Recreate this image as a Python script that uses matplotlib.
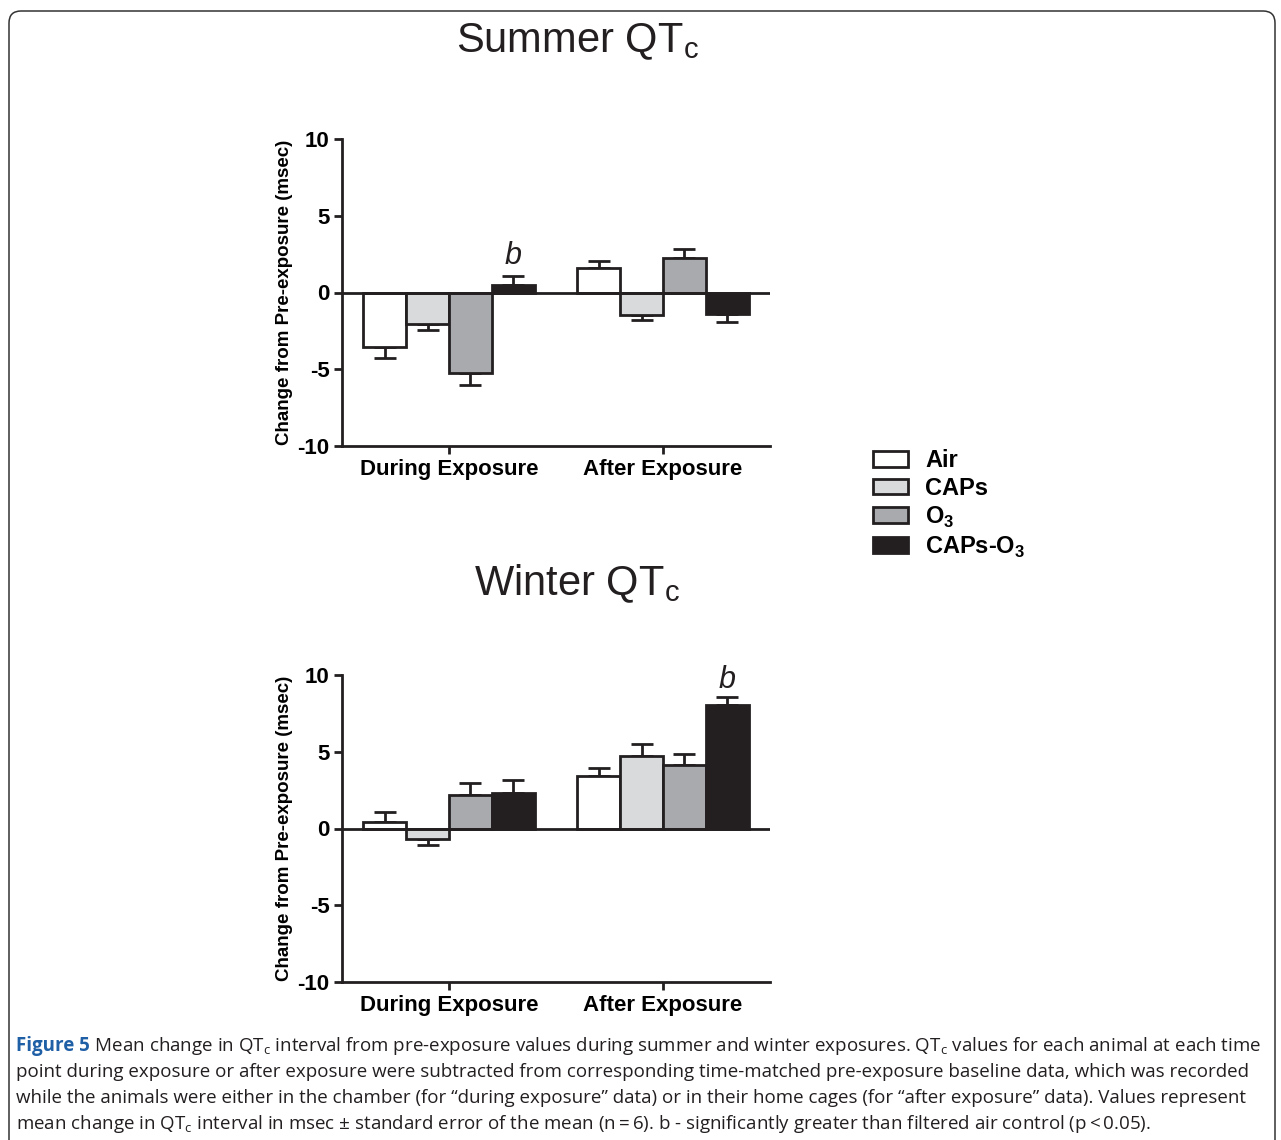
import numpy as np
import matplotlib
matplotlib.use("Agg")
import matplotlib.pyplot as plt
from matplotlib.patches import Patch, FancyBboxPatch
from matplotlib.transforms import IdentityTransform

plt.rcParams['font.family'] = ['Liberation Sans', 'DejaVu Sans']

# data
groups = ['During Exposure', 'After Exposure']
series = ['Air', 'CAPs', 'O$_\\mathregular{3}$', 'CAPs-O$_\\mathregular{3}$']
colors = ['#ffffff', '#d9dadc', '#a9aaad', '#231f20']

summer_mean = np.array([[-3.55, 1.57],
                        [-2.03, -1.48],
                        [-5.25, 2.22],
                        [0.48, -1.42]])
summer_sem = np.array([[0.70, 0.50],
                       [0.41, 0.33],
                       [0.75, 0.59],
                       [0.57, 0.50]])
winter_mean = np.array([[0.43, 3.44],
                        [-0.67, 4.74],
                        [2.19, 4.13],
                        [2.29, 8.03]])
winter_sem = np.array([[0.67, 0.52],
                       [0.41, 0.78],
                       [0.78, 0.72],
                       [0.89, 0.54]])
# significance marks: (series index, group index, y)
summer_sig = [(3, 0, 1.4)]
winter_sig = [(3, 1, 8.7)]

yticks = [-10, -5, 0, 5, 10]

W, H = 1281, 1140
fig = plt.figure(figsize=(W / 100, H / 100), dpi=100)

def panel(rect, title, title_y, means, sems, sig):
    ax = fig.add_axes(rect)
    x = np.arange(len(groups))
    width = 0.2
    for i in range(len(series)):
        xs = x + (i - 1.5) * width
        ax.bar(xs, means[i], width, color=colors[i], edgecolor='#231f20',
               linewidth=2, zorder=3)
        lo = np.where(means[i] < 0, sems[i], 0)
        hi = np.where(means[i] >= 0, sems[i], 0)
        ax.errorbar(xs, means[i], yerr=[lo, hi], fmt='none', ecolor='#231f20',
                    elinewidth=2, capsize=8, capthick=2, zorder=2)
    for si, gi, yy in sig:
        ax.text(x[gi] + (si - 1.5) * width, yy, 'b', style='italic',
                fontsize=22, ha='center', va='bottom', color='#231f20')
    ax.axhline(0, color='#231f20', lw=2, zorder=4)
    ax.set_xlim(-0.5, 1.5)
    ax.set_ylim(-10, 10)
    ax.set_yticks(yticks)
    ax.set_yticklabels([str(t) for t in yticks], fontsize=16, fontweight='bold')
    ax.set_xticks(x)
    ax.set_xticklabels(groups, fontsize=16, fontweight='bold')
    for s in ['top', 'right']:
        ax.spines[s].set_visible(False)
    for s in ['left', 'bottom']:
        ax.spines[s].set_linewidth(2)
        ax.spines[s].set_color('#231f20')
    ax.tick_params(axis='both', width=2, length=6, color='#231f20', pad=3)
    ax.set_ylabel('Change from Pre-exposure (msec)', fontsize=13.5,
                  fontweight='bold', labelpad=3)
    fig.text(577 / W, title_y, title, fontsize=30, ha='center', va='baseline',
             color='#231f20')
    return ax

panel([342 / W, 1 - 446 / H, 428 / W, 307 / H], 'Summer QT$_\\mathregular{c}$',
      1 - 52 / H, summer_mean, summer_sem, summer_sig)
panel([342 / W, 1 - 982 / H, 428 / W, 307 / H], 'Winter QT$_\\mathregular{c}$',
      1 - 595 / H, winter_mean, winter_sem, winter_sig)

handles = [Patch(facecolor=c, edgecolor='#231f20', linewidth=2) for c in colors]
fig.legend(handles, series, loc='upper left', bbox_to_anchor=(873 / W, 1 - 449 / H),
           frameon=False, prop={'size': 17, 'weight': 'bold'}, borderaxespad=0,
           borderpad=0, handlelength=1.5, handleheight=0.65, handletextpad=0.72,
           labelspacing=0.2)

# caption
cap_font = ['Liberation Sans Narrow', 'Open Sans', 'DejaVu Sans']
cap_lines = [
    ' Mean change in QT$_\\mathregular{c}$ interval from pre-exposure values during summer and winter exposures. '
    'QT$_\\mathregular{c}$ values for each animal at each time',
    'point during exposure or after exposure were subtracted from corresponding time-matched pre-exposure baseline data, which was recorded',
    'while the animals were either in the chamber (for \u201cduring exposure\u201d data) or in their home cages (for \u201cafter exposure\u201d data). Values represent',
    'mean change in QT$_\\mathregular{c}$ interval in msec \u00b1 standard error of the mean (n\u2009=\u20096). '
    'b - significantly greater than filtered air control (p\u2009<\u20090.05).',
]
line_y = [1046, 1072, 1098, 1124]
cap_size = 13.5
t0 = fig.text(16 / W, 1 - line_y[0] / H, 'Figure 5', fontsize=cap_size, fontweight='bold',
              color='#1f5fa6', family=cap_font, va='center')
fig.canvas.draw()
bb = t0.get_window_extent()
fig.text(bb.x1 / W, 1 - line_y[0] / H, cap_lines[0], fontsize=cap_size, family=cap_font,
         color='#231f20', va='center')
for txt, yy in zip(cap_lines[1:], line_y[1:]):
    fig.text(16 / W, 1 - yy / H, txt, fontsize=cap_size, family=cap_font,
             color='#231f20', va='center')

# rounded frame
frame = FancyBboxPatch((9, -30), 1266, H - 11 + 30, boxstyle='round,pad=0,rounding_size=12',
                       transform=IdentityTransform(), facecolor='none',
                       edgecolor='#333333', linewidth=1.1)
fig.add_artist(frame)

fig.savefig('out.png', dpi=100)
